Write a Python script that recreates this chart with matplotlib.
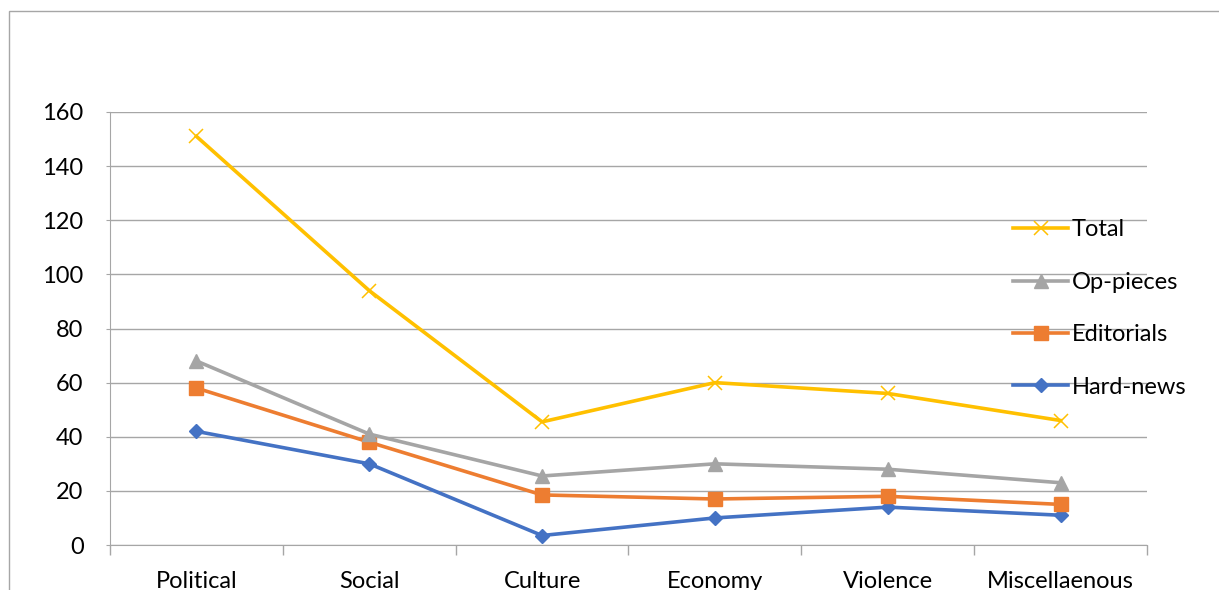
import matplotlib
matplotlib.use("Agg")
import matplotlib.pyplot as plt
from matplotlib.patches import Rectangle
import numpy as np

categories = ["Political", "Social", "Culture", "Economy", "Violence", "Miscellaenous"]
total = [151, 94, 45.5, 60, 56, 46]
op_pieces = [68, 41, 25.5, 30, 28, 23]
editorials = [58, 38, 18.5, 17, 18, 15]
hard_news = [42, 30, 3.5, 10, 14, 11]
yticks = [0, 20, 40, 60, 80, 100, 120, 140, 160]

plt.rcParams['font.family'] = ['Lato', 'DejaVu Sans']

W, H = 1219, 590
fig = plt.figure(figsize=(W / 100, H / 100), dpi=100)

# outer chart border
fig.patches.append(Rectangle((8.5 / W, -0.1), 1.2, 1 - 11 / H + 0.1,
                             transform=fig.transFigure, fill=False,
                             edgecolor="#A6A6A6", linewidth=1.0))

left, right, top, bottom = 110, 1147, 112, 545
ax = fig.add_axes([left / W, 1 - bottom / H, (right - left) / W, (bottom - top) / H])

x = np.arange(len(categories))
gridc = "#A6A6A6"
lw = 2.6
fs = 17
ax.plot(x, hard_news, color="#4472C4", lw=lw, marker="D", ms=7.5, label="Hard-news", zorder=3)
ax.plot(x, editorials, color="#ED7D31", lw=lw, marker="s", ms=9.5, label="Editorials", zorder=4)
ax.plot(x, op_pieces, color="#A5A5A5", lw=lw, marker="^", ms=10, label="Op-pieces", zorder=5)
ax.plot(x, total, color="#FFC000", lw=lw, marker="x", ms=10, mew=1.1, label="Total", zorder=6)

ax.set_xlim(-0.5, len(categories) - 0.5)
ax.set_ylim(0, 160)
ax.set_yticks(yticks)
ax.set_yticklabels([str(v) for v in yticks])
ax.yaxis.grid(True, color=gridc, lw=1.0)
ax.set_axisbelow(True)
ax.tick_params(axis="y", length=3, color=gridc, labelsize=fs, pad=16)

ax.set_xticks(x)
ax.set_xticklabels(categories)
ax.set_xticks(np.arange(-0.5, len(categories)), minor=True)
ax.tick_params(axis="x", which="major", length=0, labelsize=fs, pad=18.5)
ax.tick_params(axis="x", which="minor", length=7, color=gridc, width=1.0)

for s in ["top", "right"]:
    ax.spines[s].set_visible(False)
ax.spines["left"].set_color(gridc)
ax.spines["bottom"].set_color(gridc)

handles, labels = ax.get_legend_handles_labels()
order = [3, 2, 1, 0]
leg = ax.legend([handles[i] for i in order], [labels[i] for i in order],
                loc="upper left", bbox_to_anchor=((1013 - left) / (right - left), (bottom - 219.5) / (bottom - top)),
                frameon=False, fontsize=fs, labelspacing=1.33, handlelength=2.33,
                handletextpad=0.15, borderaxespad=0, borderpad=0)

fig.savefig("out.png", dpi=100)
